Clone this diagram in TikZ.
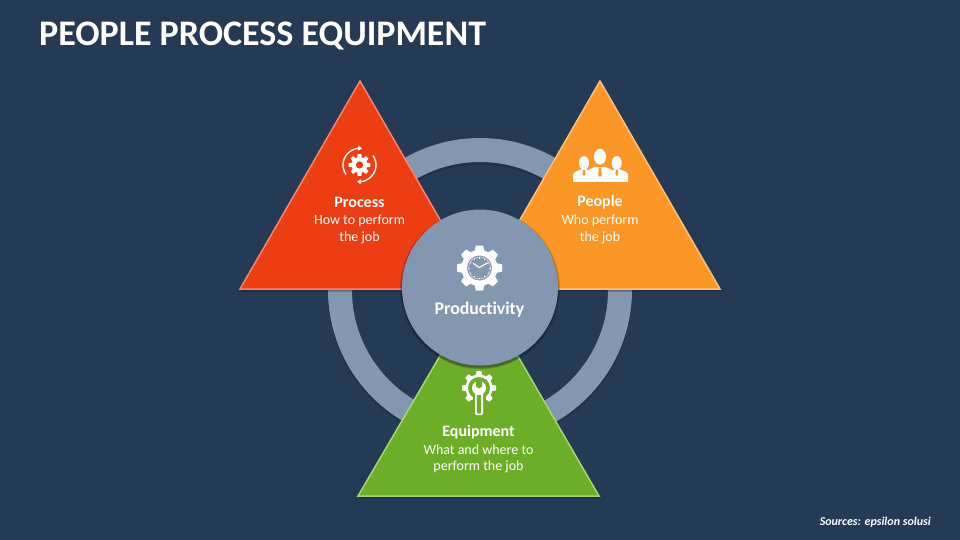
\documentclass[tikz,border=0pt]{standalone}
\usepackage{fontspec}
\setmainfont[Ligatures={CommonOff,TeX}]{Carlito}
\usetikzlibrary{arrows.meta}
\definecolor{bgc}{HTML}{243A55}
\definecolor{ringc}{HTML}{8497B0}
\definecolor{redc}{HTML}{EC3D13}
\definecolor{redl}{HTML}{F5866B}
\definecolor{orac}{HTML}{FB9726}
\definecolor{oral}{HTML}{FDC07C}
\definecolor{grec}{HTML}{6CAE27}
\definecolor{grel}{HTML}{A9D66E}
\definecolor{shc}{HTML}{101C2C}
\tikzset{
  tri/.style={line width=1.5pt,line join=miter},
  head/.style={font=\fontsize{16}{19}\selectfont\bfseries,text=white,inner sep=0pt},
  sub/.style={font=\fontsize{14}{17}\selectfont,text=white,inner sep=0pt},
  soft/.style={fill=shc,draw=none,opacity=0.2},
}
\newcommand{\gearshape}[5]{%
  \fill[white] (0,0) circle (#1);
  \foreach \k in {1,...,#3}{
    \fill[white,rotate=#5+\k*360/#3] (-#4*1.35,#1-1) -- (-#4,#2) -- (#4,#2) -- (#4*1.35,#1-1) -- cycle;
  }%
}
\begin{document}
\begin{tikzpicture}[x=1pt,y=1pt,yscale=-1]
\useasboundingbox (0,0) rectangle (960,540);
\fill[bgc] (0,0) rectangle (960,540);
\node[anchor=west,inner sep=0pt,text=white,font=\fontsize{36}{42}\selectfont\bfseries] (title) at (39,36) {PEOPLE PROCESS EQUIPMENT};
% ring
\draw[shc,opacity=0.25,line width=25pt] (480,292) circle (140);
\draw[ringc,line width=24pt] (480,290) circle (140);
% triangles
\foreach \dx/\dy in {1/1,0/2,1/3}{
  \fill[soft,shift={(\dx,\dy)}] (360,81) -- (480,289) -- (240,289) -- cycle;
  \fill[soft,shift={(\dx,\dy)}] (600,81) -- (720,289) -- (480,289) -- cycle;
  \fill[soft,shift={(\dx,\dy)}] (479,289) -- (599,496) -- (358,496) -- cycle;
}
\filldraw[tri,fill=redc,draw=redl] (360,81) -- (480,289) -- (240,289) -- cycle;
\filldraw[tri,fill=orac,draw=oral] (600,81) -- (720,289) -- (480,289) -- cycle;
\filldraw[tri,fill=grec,draw=grel] (479,289) -- (599,496) -- (358,496) -- cycle;
% centre circle
\foreach \r/\d in {80/1.5,79/2,78/2}{ \fill[soft] (480,287.5+\d) circle (\r); }
\fill[ringc] (480,287.5) circle (78);
% process icon
\begin{scope}[shift={(359.5,165)},yscale=-1]
  \gearshape{7.8}{10.8}{8}{1.8}{0}
  \fill[redc] (0,0) circle (3.6);
  \draw[white,line width=1.4pt,-{Triangle[length=3.6pt,width=5pt]}] (215:16.5) arc[start angle=215,end angle=82,radius=16.5];
  \draw[white,line width=1.4pt,-{Triangle[length=3.6pt,width=5pt]}] (35:16.5) arc[start angle=35,end angle=-98,radius=16.5];
\end{scope}
% people icon
\begin{scope}
  \fill[white] (584,163) ellipse (5 and 7);
  \fill[white] (616.7,163) ellipse (5 and 7);
  \fill[white] (573,182) -- (573,175) .. controls (573,172) and (577,171) .. (581,169.5) -- (587,169.5) -- (592,172) -- (592,182) -- cycle;
  \fill[white] (628,182) -- (628,175) .. controls (628,172) and (624,171) .. (620,169.5) -- (614,169.5) -- (609,172) -- (609,182) -- cycle;
  \fill[white] (586,182) -- (586,172) .. controls (588,169.5) and (591,168.5) .. (595,167) -- (605,167) .. controls (609,168.5) and (612,169.5) .. (614.5,172) -- (614.5,182) -- cycle;
  \fill[white] (600,156.7) ellipse (6 and 8);
  \fill[orac] (598.8,168) -- (601.2,168) -- (601.8,175) -- (600,177) -- (598.2,175) -- cycle;
  \fill[orac] (583,170) -- (585,170) -- (585.4,174.5) -- (584,176) -- (582.6,174.5) -- cycle;
  \fill[orac] (615.8,170) -- (617.8,170) -- (618.2,174.5) -- (616.8,176) -- (615.4,174.5) -- cycle;
\end{scope}
% clock gear icon
\begin{scope}[shift={(479.5,268)},yscale=-1]
  \gearshape{18}{22.5}{8}{3.6}{0}
  \fill[ringc] (0,0) circle (12.5);
  \draw[white,line width=0.3pt] (0,0) circle (11);
  \foreach \k in {0,30,...,330}{ \draw[white,line width=0.6pt] (\k:9.5) -- (\k:11); }
  \draw[white,line width=1.1pt,line cap=round,line join=round] (-6,4.5) -- (-0.5,0.5) -- (8,5);
\end{scope}
% wrench gear icon
\begin{scope}[shift={(479,388)},yscale=-1]
  \gearshape{13.5}{17}{8}{2.4}{0}
  \fill[grec] (0,0) circle (11);
  \fill[grec] (-6.5,-4) rectangle (6.5,-16);
  \fill[white] (0,0) circle (7);
  \fill[white] (-4,0) rectangle (4,-8);
  \fill[grec] (-3,7.5) -- (-3,1.5) -- (0,-0.5) -- (3,1.5) -- (3,7.5) -- cycle;
  \fill[white,rounded corners=1.5pt] (-4,-3) rectangle (4,-27);
  \fill[grec,rounded corners=0.8pt] (-2.2,-7) rectangle (2.2,-25.5);
\end{scope}
% text
\node[head] (prc) at (359.5,202.5) {Process};
\node[sub] (prc1) at (359.5,220.5) {How to perform};
\node[sub] (prc2) at (359.5,237.5) {the job};
\node[head] (ppl) at (600,202.5) {People};
\node[sub] (ppl1) at (600,220.5) {Who perform};
\node[sub] (ppl2) at (600,237.5) {the job};
\node[head] (eqp) at (478.5,432.5) {Equipment};
\node[sub] (eqp1) at (478.5,449.5) {What and where to};
\node[sub] (eqp2) at (478.5,466.5) {perform the job};
\node[inner sep=0pt,text=white,font=\fontsize{17.8}{22}\selectfont\bfseries] (prod) at (479.5,310) {Productivity};
\node[anchor=east,inner sep=0pt,text=white,font=\fontsize{12}{14}\selectfont\bfseries\itshape] (src) at (931,522.5) {Sources: epsilon solusi};
\end{tikzpicture}
\end{document}
